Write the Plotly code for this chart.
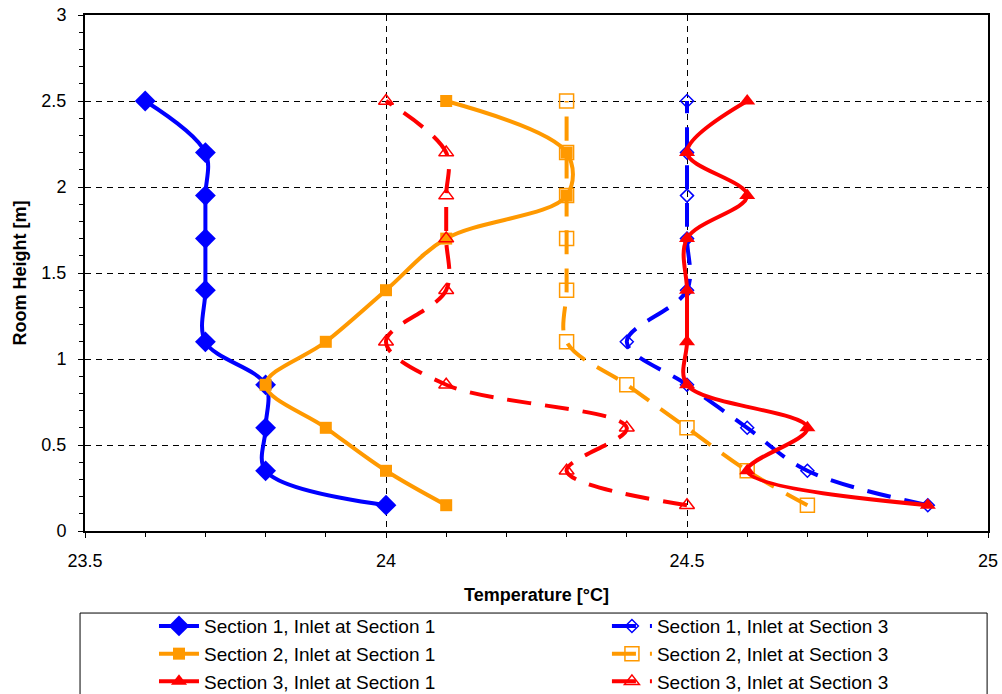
import plotly.graph_objects as go

# Measurement heights above the floor [m]
heights = [0.15, 0.35, 0.6, 0.85, 1.1, 1.4, 1.7, 1.95, 2.2, 2.5]

# Air temperature profiles [°C] per measuring section
s1_inlet1 = [24.0, 23.8, 23.8, 23.8, 23.7, 23.7, 23.7, 23.7, 23.7, 23.6]
s2_inlet1 = [24.1, 24.0, 23.9, 23.8, 23.9, 24.0, 24.1, 24.3, 24.3, 24.1]
s3_inlet1 = [24.9, 24.6, 24.7, 24.5, 24.5, 24.5, 24.5, 24.6, 24.5, 24.6]
s1_inlet3 = [24.9, 24.7, 24.6, 24.5, 24.4, 24.5, 24.5, 24.5, 24.5, 24.5]
s2_inlet3 = [24.7, 24.6, 24.5, 24.4, 24.3, 24.3, 24.3, 24.3, 24.3, 24.3]
s3_inlet3 = [24.5, 24.3, 24.4, 24.1, 24.0, 24.1, 24.1, 24.1, 24.1, 24.0]

x_ticks = [23.5, 24, 24.5, 25]
y_ticks = [0, 0.5, 1, 1.5, 2, 2.5, 3]

BLUE = "#0000FF"
ORANGE = "#FF9900"
RED = "#FF0000"
FONT = "Arial, Liberation Sans, sans-serif"
DASH = "24px,14px"

# name, data, colour, dash, symbol, size, filled, legend column
series = [
    ("Section 1, Inlet at Section 1", s1_inlet1, BLUE, "solid", "diamond", 16, True, "legend"),
    ("Section 1, Inlet at Section 3", s1_inlet3, BLUE, DASH, "diamond-open", 10, False, "legend2"),
    ("Section 2, Inlet at Section 1", s2_inlet1, ORANGE, "solid", "square", 12, True, "legend"),
    ("Section 2, Inlet at Section 3", s2_inlet3, ORANGE, DASH, "square-open", 14, False, "legend2"),
    ("Section 3, Inlet at Section 1", s3_inlet1, RED, "solid", "triangle-up", 14, True, "legend"),
    ("Section 3, Inlet at Section 3", s3_inlet3, RED, DASH, "triangle-up-open", 13, False, "legend2"),
]

fig = go.Figure()
for name, temps, color, dash, symbol, size, filled, leg in series:
    fig.add_trace(go.Scatter(
        x=temps, y=heights, name=name, mode="lines+markers", legend=leg,
        line=dict(color=color, width=4, dash=dash, shape="spline", smoothing=1),
        marker=dict(symbol=symbol, size=size, color=color,
                    line=dict(color=color, width=0 if filled else 1.5)),
    ))

axis_common = dict(
    showline=True, linecolor="black", mirror=True,
    ticks="outside", ticklen=5, tickcolor="black",
    showgrid=True, gridcolor="black", gridwidth=1, griddash="6px,5px",
    zeroline=False,
    tickfont=dict(family=FONT, size=18, color="black"),
    minor=dict(ticks="outside", ticklen=4, tickcolor="black", showgrid=False),
)

fig.update_xaxes(
    **axis_common, range=[23.5, 25], tickvals=x_ticks, linewidth=1.5,
    minor_dtick=0.1, ticklabelstandoff=8, automargin=False,
    title=dict(text="<b>Temperature [°C]</b>", standoff=18,
               font=dict(family=FONT, size=18, color="black")),
)
fig.update_yaxes(
    **axis_common, range=[0, 3], tickvals=y_ticks, linewidth=2,
    minor_dtick=0.1, ticklabelstandoff=8, automargin=False,
    title=dict(text="<b>Room Height [m]</b>", standoff=10,
               font=dict(family=FONT, size=18, color="black")),
)

# Frame around the legend block
fig.add_shape(type="rect", xref="paper", yref="paper",
              x0=-0.0055, x1=0.999, y0=-0.34, y1=-0.159,
              line=dict(color="black", width=1), fillcolor="rgba(0,0,0,0)")

legend_common = dict(
    orientation="v", xanchor="left", y=-0.1475, yanchor="top",
    traceorder="normal", tracegroupgap=0,
    font=dict(family=FONT, size=19, color="black"),
    bgcolor="rgba(0,0,0,0)", borderwidth=0, itemwidth=40,
)

fig.update_layout(
    width=1002, height=694,
    margin=dict(l=85, r=14, t=15, b=163, autoexpand=False),
    plot_bgcolor="white", paper_bgcolor="white",
    font=dict(family=FONT, color="black"),
    showlegend=True,
    legend=dict(x=0.0764, **legend_common),
    legend2=dict(x=0.578, **legend_common),
)

fig.write_html("out.html")
